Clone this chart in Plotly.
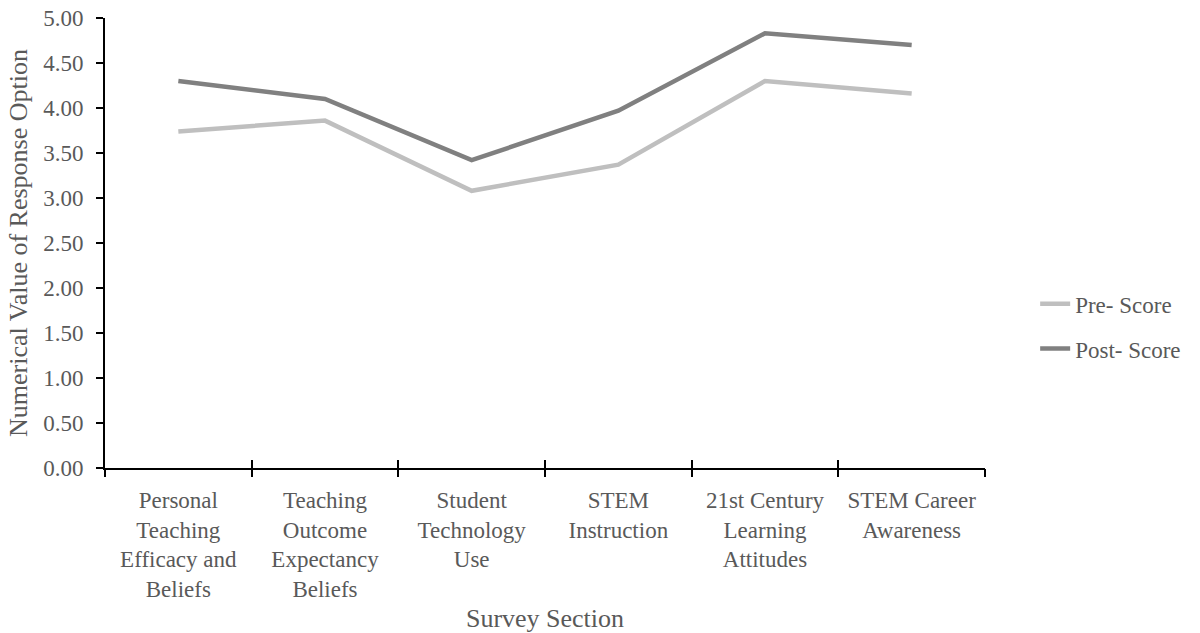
import plotly.graph_objects as go

# Survey sections (x categories) and mean response values
sections = [
    "Personal<br>Teaching<br>Efficacy and<br>Beliefs",
    "Teaching<br>Outcome<br>Expectancy<br>Beliefs",
    "Student<br>Technology<br>Use",
    "STEM<br>Instruction",
    "21st Century<br>Learning<br>Attitudes",
    "STEM Career<br>Awareness",
]
pre_score = [3.74, 3.86, 3.08, 3.37, 4.30, 4.16]
post_score = [4.30, 4.10, 3.42, 3.97, 4.83, 4.70]

y_ticks = [0.0, 0.5, 1.0, 1.5, 2.0, 2.5, 3.0, 3.5, 4.0, 4.5, 5.0]

FONT = "Liberation Serif, serif"
TEXT = "#595959"

idx = list(range(len(sections)))
bounds = [i - 0.5 for i in range(len(sections) + 1)]
xrange = [bounds[0], bounds[-1]]

fig = go.Figure()
fig.add_trace(go.Scatter(
    x=idx, y=pre_score, mode="lines", name="Pre- Score",
    line=dict(color="#BFBFBF", width=4.5), legendgroup="pre",
))
fig.add_trace(go.Scatter(
    x=idx, y=post_score, mode="lines", name="Post- Score",
    line=dict(color="#808080", width=4.5), legendgroup="post",
))
# invisible helpers so the boundary-tick axes are drawn
for ax in ("x2", "x3"):
    fig.add_trace(go.Scatter(
        x=idx, y=pre_score, xaxis=ax, mode="lines",
        line=dict(width=0, color="rgba(0,0,0,0)"),
        showlegend=False, hoverinfo="skip",
    ))

fig.update_layout(
    width=1200, height=633,
    margin=dict(l=105, r=215, t=18, b=165),
    paper_bgcolor="white", plot_bgcolor="white",
    font=dict(family=FONT, color=TEXT, size=23),
    showlegend=True,
    legend=dict(
        x=1.057, xanchor="left", y=0.315, yanchor="middle",
        font=dict(family=FONT, color=TEXT, size=23),
        traceorder="grouped", tracegroupgap=12,
        bgcolor="rgba(0,0,0,0)",
    ),
    xaxis=dict(
        range=xrange, tickmode="array", tickvals=idx, ticktext=sections,
        ticks="", showgrid=False, zeroline=False, automargin=False,
        showline=True, linecolor="black", linewidth=2,
        tickfont=dict(family=FONT, color=TEXT, size=23),
        ticklabelstandoff=10,
        title=dict(text="Survey Section", standoff=22,
                   font=dict(family=FONT, color=TEXT, size=26)),
    ),
    xaxis2=dict(
        range=xrange, overlaying="x", anchor="y", side="bottom",
        tickmode="array", tickvals=bounds, ticks="outside", ticklen=8,
        tickwidth=2, tickcolor="black", showticklabels=False,
        showgrid=False, zeroline=False, showline=False, automargin=False,
    ),
    xaxis3=dict(
        range=xrange, overlaying="x", anchor="y", side="bottom",
        tickmode="array", tickvals=bounds, ticks="inside", ticklen=8,
        tickwidth=2, tickcolor="black", showticklabels=False,
        showgrid=False, zeroline=False, showline=False, automargin=False,
    ),
    yaxis=dict(
        range=[0, 5], tickmode="array", tickvals=y_ticks,
        tickformat=".2f", ticks="outside", ticklen=7, tickwidth=2,
        tickcolor="black", showgrid=False, zeroline=False, automargin=False,
        showline=True, linecolor="black", linewidth=2,
        tickfont=dict(family=FONT, color=TEXT, size=23),
        ticklabelstandoff=8,
        title=dict(text="Numerical Value of Response Option", standoff=8,
                   font=dict(family=FONT, color=TEXT, size=26)),
    ),
)

fig.write_html("out.html")
